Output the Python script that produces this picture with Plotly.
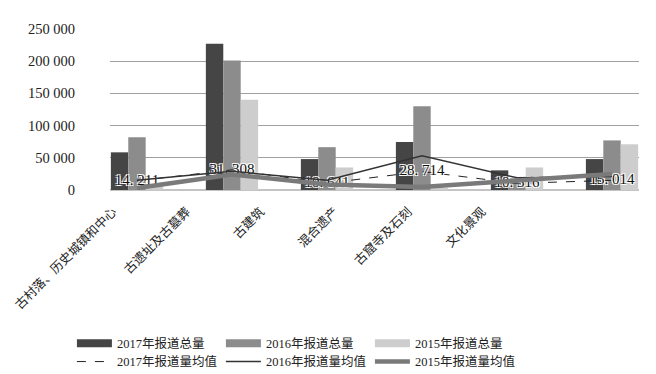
import plotly.graph_objects as go

categories = ["古村落、历史城镇和中心", "古遗址及古墓葬", "古建筑", "混合遗产", "古窟寺及石刻", "文化景观"]
total_2017 = [58500, 227000, 48000, 74500, 30500, 48000]
total_2016 = [82000, 201000, 66500, 130000, 18000, 77000]
total_2015 = [6000, 140000, 35000, 3000, 35000, 71000]
mean_2017 = [14211, 31308, 10641, 28714, 10316, 15014]
mean_2016 = [15000, 29000, 15000, 53000, 19000, 21000]
mean_2015 = [3000, 24000, 8500, 4500, 14700, 25000]
y_ticks = [0, 50000, 100000, 150000, 200000, 250000]

serif = "Liberation Serif, Noto Sans CJK SC, serif"
mean_labels = [f"{v // 1000}. {v % 1000:03d}" for v in mean_2017]
label_idx = list(range(len(categories)))

fig = go.Figure()
bar_specs = [("2017年报道总量", total_2017, "#454545"),
             ("2016年报道总量", total_2016, "#8c8c8c"),
             ("2015年报道总量", total_2015, "#cdcdcd")]
for name, vals, col in bar_specs:
    fig.add_trace(go.Bar(x=categories, y=vals, name=name, marker_color=col,
                         marker_line_width=0, showlegend=False))

# legend-only entries for the bars (wide swatches)
for name, vals, col in bar_specs:
    fig.add_trace(go.Scatter(x=[None], y=[None], mode="lines", name=name,
                             line=dict(color=col, width=8), legend="legend"))

halo = "1px 1px 0 white, -1px -1px 0 white, 1px -1px 0 white, -1px 1px 0 white"
fig.add_trace(go.Scatter(x=categories, y=mean_2017, name="2017年报道量均值",
                         mode="lines+text", text=mean_labels, textposition="middle center",
                         textfont=dict(family=serif, size=15, color="#111111", shadow=halo),
                         line=dict(color="#222", width=1, dash="dash"), legend="legend2"))
fig.add_trace(go.Scatter(x=categories, y=mean_2016, name="2016年报道量均值",
                         mode="lines", line=dict(color="#333", width=1.5), legend="legend2"))
fig.add_trace(go.Scatter(x=categories, y=mean_2015, name="2015年报道量均值",
                         mode="lines", line=dict(color="#7a7a7a", width=4.5), legend="legend2"))

# invisible carrier so the category-label axis is drawn
fig.add_trace(go.Scatter(x=label_idx, y=[None] * len(label_idx), xaxis="x2", yaxis="y",
                         mode="markers", marker=dict(opacity=0), showlegend=False,
                         hoverinfo="skip"))

leg_common = dict(orientation="h", xanchor="left", yanchor="middle",
                  entrywidth=99, itemwidth=35, traceorder="normal", tracegroupgap=0,
                  font=dict(family=serif, size=12.5, color="#222"), bgcolor="rgba(0,0,0,0)")

fig.update_layout(
    width=656, height=388,
    margin=dict(l=110, r=17, t=29, b=198),
    paper_bgcolor="white", plot_bgcolor="white",
    barmode="group", bargap=0.45, bargroupgap=0,
    separators=". ",
    font=dict(family=serif, size=13, color="#222"),
    legend=dict(x=-0.072, y=-0.954, **leg_common),
    legend2=dict(x=-0.072, y=-1.068, **leg_common),
    showlegend=True,
    xaxis=dict(range=[-0.284, 5.284], showticklabels=False, showgrid=False, ticks="",
               showline=False, zeroline=False, automargin=False),
    xaxis2=dict(overlaying="x", anchor="y", side="bottom", range=[-0.108, 7.06],
                tickmode="array", tickvals=label_idx, ticktext=categories,
                tickangle=-45, ticklabelshift=-5, ticklabelstandoff=11, ticks="",
                ticklabeloverflow="allow",
                showgrid=False, zeroline=False, showline=False, automargin=False,
                tickfont=dict(family=serif, size=12.5, color="#222")),
    yaxis=dict(range=[0, 250000], tickvals=y_ticks, tickformat=",d", showgrid=True,
               gridcolor="#a0a0a0", gridwidth=1, zeroline=True, zerolinecolor="#c4c4c4",
               zerolinewidth=2, ticks="", showline=False, ticklabelstandoff=34,
               automargin=False, tickfont=dict(family=serif, size=14.5, color="#222")),
)

fig.write_html(
    "out.html",
    config={"displayModeBar": False},
    post_script="document.body.style.margin='0';document.documentElement.style.overflow='hidden';",
)
